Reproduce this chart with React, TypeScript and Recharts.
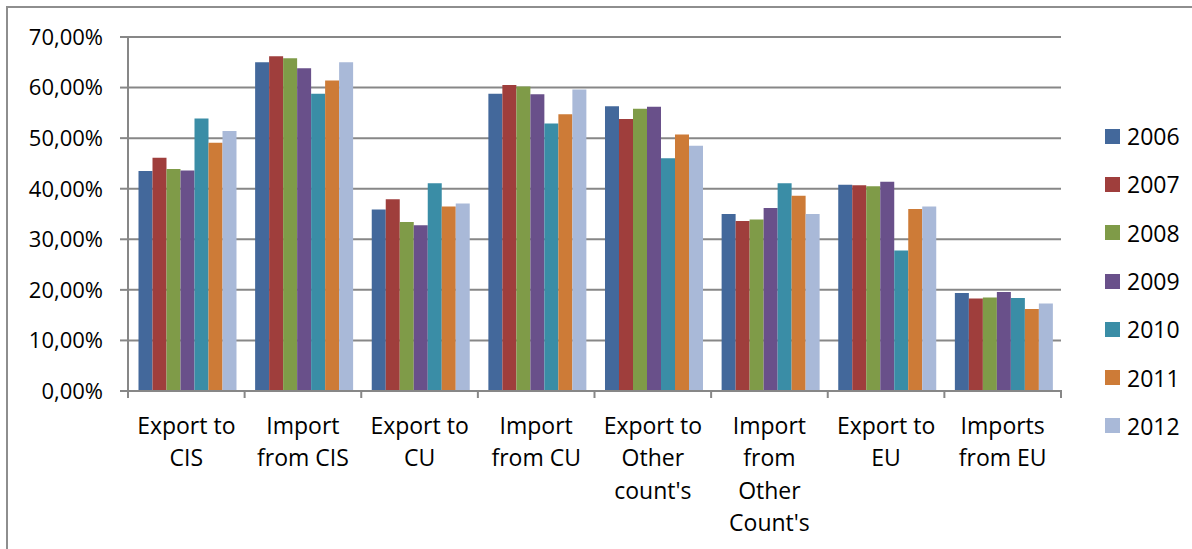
import React from "react";
import { BarChart, Bar, XAxis, YAxis, CartesianGrid } from "recharts";

const categories = [
  "Export to CIS",
  "Import from CIS",
  "Export to CU",
  "Import from CU",
  "Export to Other count's",
  "Import from Other Count's",
  "Export to EU",
  "Imports from EU",
];

// how each category label wraps under the axis
const tickLines = [
  ["Export to", "CIS"],
  ["Import", "from CIS"],
  ["Export to", "CU"],
  ["Import", "from CU"],
  ["Export to", "Other", "count's"],
  ["Import", "from", "Other", "Count's"],
  ["Export to", "EU"],
  ["Imports", "from EU"],
];

const years = ["2006", "2007", "2008", "2009", "2010", "2011", "2012"];

const v2006 = [43.5, 65.0, 35.9, 58.8, 56.3, 35.0, 40.8, 19.4];
const v2007 = [46.1, 66.2, 37.9, 60.5, 53.8, 33.6, 40.7, 18.3];
const v2008 = [43.9, 65.8, 33.4, 60.2, 55.8, 33.9, 40.5, 18.5];
const v2009 = [43.6, 63.8, 32.8, 58.7, 56.2, 36.2, 41.4, 19.6];
const v2010 = [53.9, 58.8, 41.1, 52.9, 46.0, 41.1, 27.8, 18.4];
const v2011 = [49.1, 61.4, 36.5, 54.7, 50.7, 38.6, 36.0, 16.2];
const v2012 = [51.4, 65.0, 37.1, 59.6, 48.5, 35.0, 36.5, 17.3];

const yTicks = [0, 10, 20, 30, 40, 50, 60, 70];

const colors = ["#43689b", "#9f3e3c", "#7f9b48", "#69508a", "#3a8da6", "#cd7b37", "#a9b9d8"];

const series = [v2006, v2007, v2008, v2009, v2010, v2011, v2012];
const data = categories.map((name, i) => {
  const row: any = { name };
  years.forEach((y, s) => (row[y] = series[s][i]));
  return row;
});

const W = 1192;
const H = 549;
const margin = { top: 37, right: 131, bottom: 0, left: 8 };
const Y_W = 120;
const X_H = 158;
const plotW = W - margin.left - margin.right - Y_W;
const band = plotW / categories.length;
const axisColor = "#878787";
const font = "'Open Sans', sans-serif";

const fmt = (v: number) => v.toFixed(2).replace(".", ",") + "%";

function CategoryTick(props: any) {
  const { x, y, payload, index } = props;
  const lines = tickLines[payload.index ?? index] ?? [String(payload.value)];
  const left = x - band / 2;
  const right = x + band / 2;
  return (
    <g>
      <line x1={left} x2={left} y1={y - 1} y2={y + 7} stroke={axisColor} strokeWidth={2} />
      {index === categories.length - 1 && (
        <line x1={right} x2={right} y1={y - 1} y2={y + 7} stroke={axisColor} strokeWidth={2} />
      )}
      <text x={x} y={y + 35} textAnchor="middle" fill="#000" fontSize={23} fontFamily={font}>
        {lines.map((l, i) => (
          <tspan key={i} x={x} dy={i === 0 ? "0.35em" : 32.3}>
            {l}
          </tspan>
        ))}
      </text>
    </g>
  );
}

function YearLegend() {
  return (
    <div style={{ position: "absolute", left: 1105, top: 112, fontFamily: font, fontSize: 23, color: "#000" }}>
      {years.map((y, i) => (
        <div key={y} style={{ height: 48.3, display: "flex", alignItems: "center" }}>
          <span style={{ width: 15, height: 15, background: colors[i], marginRight: 7, display: "inline-block" }} />
          <span>{y}</span>
        </div>
      ))}
    </div>
  );
}

export default function App() {
  return (
    <div style={{ position: "absolute", left: 0, top: 0, width: W, height: H, overflow: "hidden", background: "#fff" }}>
      <div
        style={{
          position: "absolute",
          left: 6,
          top: 6,
          width: 1220,
          height: 600,
          border: "2px solid #8e8e8e",
        }}
      />
      <div style={{ position: "absolute", left: 0, top: 0 }}>
        <BarChart width={W} height={H} data={data} margin={margin} barCategoryGap="9%" barGap={0}>
          <CartesianGrid vertical={false} stroke={axisColor} strokeWidth={2} />
          <XAxis
            dataKey="name"
            height={X_H}
            interval={0}
            tickLine={false}
            tickSize={0}
            tickMargin={0}
            axisLine={{ stroke: axisColor, strokeWidth: 2 }}
            tick={<CategoryTick />}
          />
          <YAxis
            width={Y_W}
            domain={[0, 70]}
            ticks={yTicks}
            interval={0}
            tickFormatter={fmt}
            tickSize={8}
            tickMargin={17}
            tickLine={{ stroke: axisColor, strokeWidth: 2 }}
            axisLine={{ stroke: axisColor, strokeWidth: 2 }}
            tick={{ fill: "#000", fontSize: 22, fontFamily: font }}
          />
          {years.map((y, i) => (
            <Bar key={y} dataKey={y} fill={colors[i]} isAnimationActive={false} />
          ))}
        </BarChart>
      </div>
      <YearLegend />
    </div>
  );
}
